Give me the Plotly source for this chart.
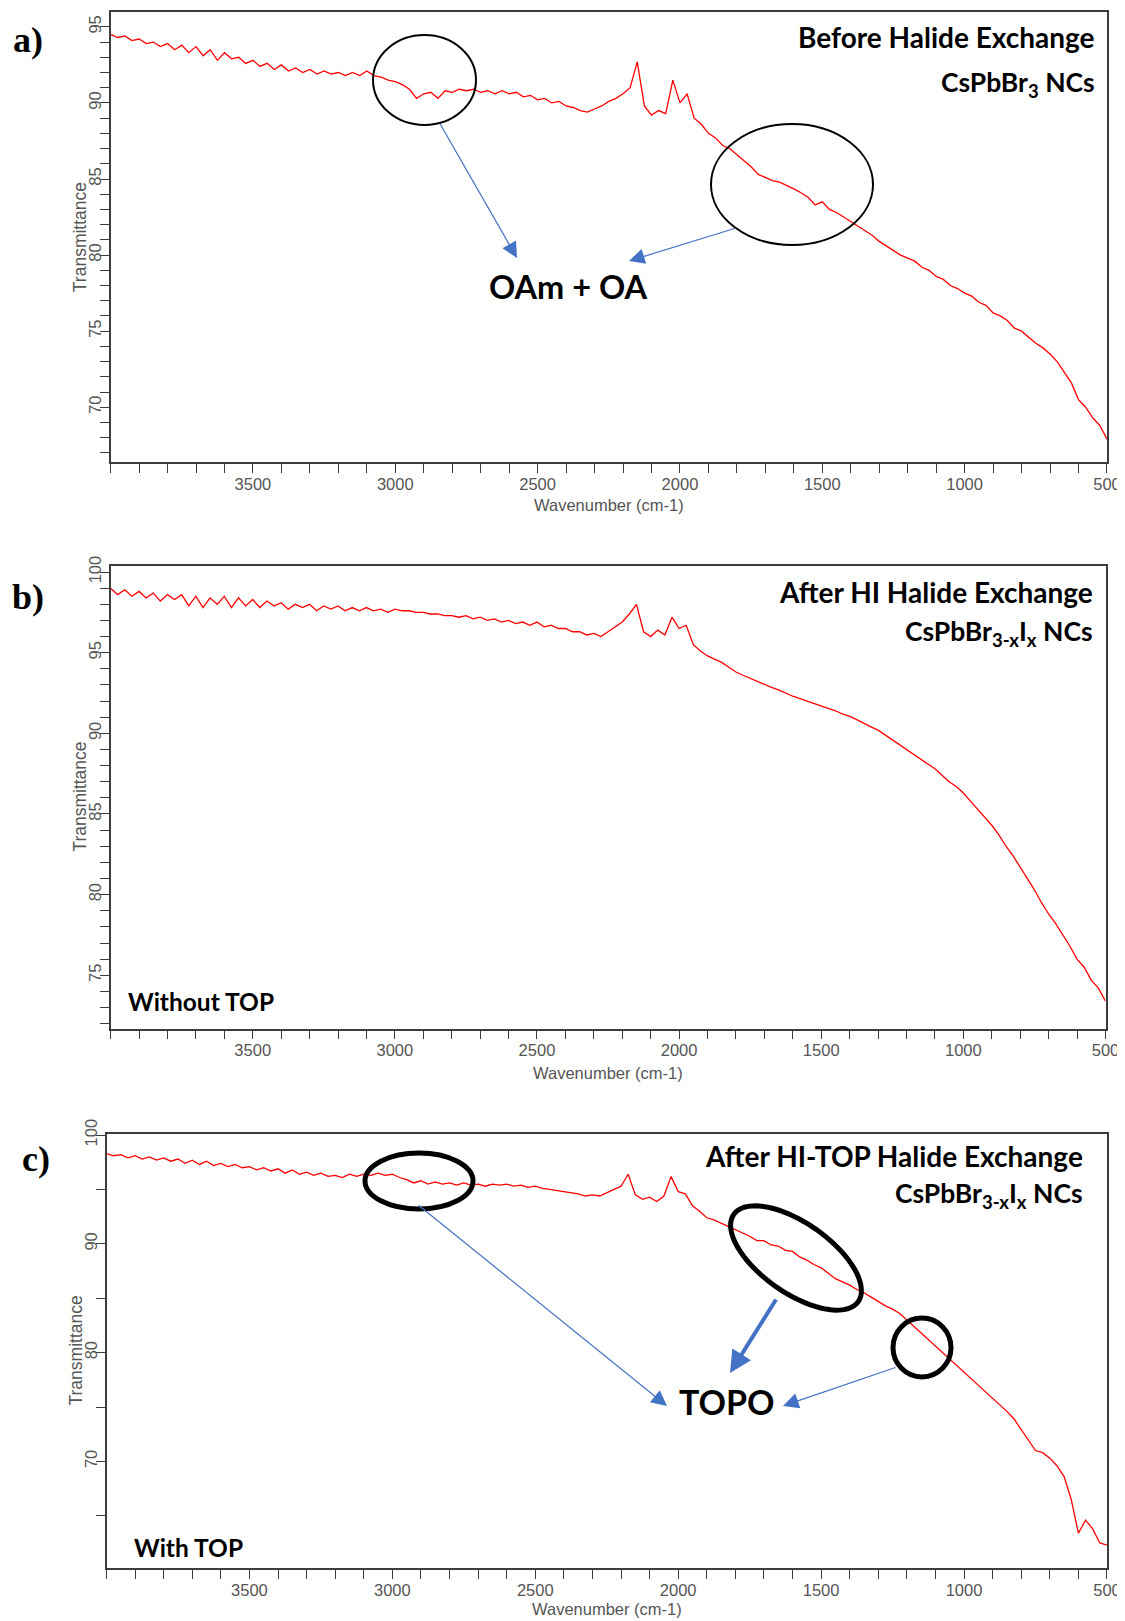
import numpy as np
import plotly.graph_objects as go

# The page body has an 8px default margin, so the figure is sized to fit the
# 1125x1621 window and all reference pixel positions are shifted by that margin.
OFF = 8
W, H = 1125 - OFF, 1621 - OFF


def px(x):
    return (x - OFF) / W


def py(y):
    return 1 - (y - OFF) / H


# ---------------- data ----------------
wavenumber = list(range(4000, 499, -25))  # cm-1 sampling grid, 4000 -> 500

transmittance_a = [
    94.5, 94.3, 94.4, 94.1, 94.2, 93.9, 94.0, 93.7, 93.9, 93.5,
    93.8, 93.3, 93.7, 93.1, 93.5, 92.8, 93.3, 92.9, 93.0, 92.6,
    92.8, 92.4, 92.6, 92.2, 92.5, 92.1, 92.3, 92.0, 92.2, 91.9,
    92.1, 91.9, 92.0, 91.8, 92.0, 91.8, 92.1, 91.8, 91.7, 91.5,
    91.4, 91.2, 90.9, 90.3, 90.6, 90.7, 90.3, 90.8, 90.7, 90.9,
    90.8, 90.9, 90.7, 90.8, 90.6, 90.8, 90.6, 90.7, 90.4, 90.5,
    90.2, 90.3, 90.0, 90.1, 89.8, 89.7, 89.5, 89.4, 89.6, 89.8,
    90.1, 90.3, 90.6, 91.0, 92.7, 89.8, 89.2, 89.5, 89.3, 91.5,
    90.0, 90.6, 89.0, 88.6, 88.0, 87.7, 87.2, 87.0, 86.6, 86.2,
    85.8, 85.3, 85.1, 84.9, 84.8, 84.6, 84.35, 84.1, 83.8, 83.3,
    83.5, 83.0, 82.8, 82.5, 82.2, 81.9, 81.6, 81.3, 80.9, 80.6,
    80.3, 80.0, 79.8, 79.6, 79.2, 79.0, 78.6, 78.4, 78.0, 77.8,
    77.5, 77.3, 76.9, 76.7, 76.2, 76.0, 75.7, 75.2, 75.0, 74.6,
    74.2, 73.9, 73.5, 73.0, 72.3, 71.6, 70.5, 70.0, 69.3, 68.8,
    67.9,
]

transmittance_b = [
    99.0, 98.6, 98.9, 98.5, 98.8, 98.4, 98.7, 98.2, 98.6, 98.3,
    98.6, 97.9, 98.5, 97.8, 98.4, 98.0, 98.5, 97.8, 98.4, 97.9,
    98.3, 97.8, 98.2, 97.9, 98.1, 97.7, 98.0, 97.8, 98.0, 97.6,
    97.9, 97.7, 97.9, 97.6, 97.8, 97.6, 97.8, 97.6, 97.7, 97.5,
    97.7, 97.6, 97.6, 97.5, 97.5, 97.4, 97.4, 97.3, 97.3, 97.2,
    97.3, 97.1, 97.2, 97.0, 97.1, 96.9, 97.0, 96.8, 96.9, 96.7,
    96.9, 96.6, 96.7, 96.5, 96.5, 96.3, 96.3, 96.1, 96.2, 96.0,
    96.3, 96.6, 96.9, 97.4, 98.0, 96.3, 96.0, 96.4, 96.1, 97.2,
    96.5, 96.7, 95.5, 95.1, 94.8, 94.6, 94.4, 94.1, 93.8, 93.6,
    93.4, 93.2, 93.05, 92.85, 92.7, 92.5, 92.3, 92.15, 92.0, 91.85,
    91.7, 91.55, 91.4, 91.2, 91.05, 90.85, 90.6, 90.4, 90.2, 89.9,
    89.6, 89.3, 89.0, 88.7, 88.4, 88.1, 87.8, 87.4, 87.0, 86.7,
    86.3, 85.8, 85.3, 84.8, 84.3, 83.7, 83.0, 82.4, 81.7, 81.0,
    80.3, 79.5, 78.8, 78.2, 77.5, 76.8, 76.0, 75.5, 74.7, 74.2,
    73.4,
]

transmittance_c = [
    98.3, 98.1, 98.2, 97.9, 98.1, 97.8, 98.0, 97.7, 97.9, 97.6,
    97.8, 97.4, 97.7, 97.3, 97.6, 97.2, 97.4, 97.1, 97.3, 97.0,
    97.1, 96.8, 97.0, 96.7, 96.9, 96.5, 96.8, 96.4, 96.6, 96.3,
    96.5, 96.2, 96.3, 96.1, 96.4, 96.2, 96.4, 96.3, 96.5, 96.3,
    96.4, 96.1, 95.9, 95.6, 95.8, 95.5, 95.7, 95.5, 95.6, 95.4,
    95.6, 95.4, 95.5, 95.3, 95.5, 95.4, 95.5, 95.3, 95.4, 95.2,
    95.3, 95.1, 95.0, 94.9, 94.8, 94.7, 94.6, 94.4, 94.5, 94.4,
    94.7, 95.0, 95.3, 96.4, 94.5, 94.1, 94.3, 93.9, 94.4, 96.2,
    94.8, 94.6, 93.5, 93.0, 92.4, 92.2, 91.9, 91.6, 91.3, 91.0,
    90.7, 90.3, 90.3, 89.9, 89.8, 89.4, 89.3, 88.8, 88.5, 88.1,
    87.8, 87.3, 86.8, 86.5, 86.2, 85.8, 85.5, 85.1, 84.7, 84.3,
    84.0, 83.6, 83.0, 82.4, 81.8, 81.2, 80.6, 80.0, 79.4, 78.8,
    78.2, 77.6, 77.0, 76.4, 75.8, 75.2, 74.6, 73.9, 72.9, 71.9,
    71.0, 70.8, 70.3, 69.6, 68.6, 66.5, 63.4, 64.6, 63.8, 62.5,
    62.3,
]

x_tick_values = [3500, 3000, 2500, 2000, 1500, 1000, 500]
panel_titles = ["Before Halide Exchange", "After HI Halide Exchange", "After HI-TOP Halide Exchange"]
panel_formulas = ["CsPbBr<sub>3</sub> NCs", "CsPbBr<sub>3-x</sub>I<sub>x</sub> NCs", "CsPbBr<sub>3-x</sub>I<sub>x</sub> NCs"]
panel_letters = ["a)", "b)", "c)"]
x_title = "Wavenumber (cm-1)"
y_title = "Transmittance"

# ---------------- layout geometry (reference pixels) ----------------
panels = [
    dict(l=110.6, r=1107, t=12.4, b=462, yr=[66.4, 95.95], dt=5, mdt=1, data=transmittance_a),
    dict(l=110.6, r=1105.5, t=565.6, b=1028.5, yr=[71.7, 100.4], dt=5, mdt=1, data=transmittance_b),
    dict(l=106.5, r=1107, t=1134, b=1568, yr=[60.2, 100.1], dt=10, mdt=5, data=transmittance_c),
]

AX = "#3c3c3c"
TICKFONT = dict(family="Liberation Sans, Arial, sans-serif", size=16.5, color="#555555")

fig = go.Figure()
layout = {}
for i, p in enumerate(panels):
    n = "" if i == 0 else str(i + 1)
    fig.add_trace(go.Scatter(
        x=wavenumber, y=p["data"], mode="lines",
        line=dict(color="#FF0000", width=1.3),
        xaxis="x" + n, yaxis="y" + n, showlegend=False, hoverinfo="skip",
    ))
    layout["xaxis" + n] = dict(
        domain=[px(p["l"]), px(p["r"])], anchor="y" + n, automargin=False,
        range=[4000, 499.9], tickmode="array", tickvals=x_tick_values,
        showline=True, linecolor=AX, linewidth=1.5, mirror=True,
        ticks="outside", ticklen=9, tickwidth=1.3, tickcolor=AX,
        minor=dict(ticks="outside", ticklen=9, tickwidth=1.3, tickcolor=AX, dtick=100, tick0=0),
        showgrid=False, zeroline=False, tickfont=TICKFONT, ticklabelstandoff=-3,
    )
    layout["yaxis" + n] = dict(
        domain=[py(p["b"]), py(p["t"])], anchor="x" + n, automargin=False,
        range=p["yr"], dtick=p["dt"], tick0=0, tickangle=-90,
        showline=True, linecolor=AX, linewidth=1.5, mirror=True,
        ticks="outside", ticklen=9, tickwidth=1.3, tickcolor=AX,
        minor=dict(ticks="outside", ticklen=9, tickwidth=1.3, tickcolor=AX, dtick=p["mdt"], tick0=0),
        showgrid=False, zeroline=False, tickfont=TICKFONT, ticklabelstandoff=-8,
    )

annotations = []
TXT = "Lato, Open Sans, sans-serif"


def text(x, y, s, size, xanchor="center", family=TXT, color="black", angle=0):
    annotations.append(dict(
        x=px(x), y=py(y), xref="paper", yref="paper", text=s, showarrow=False,
        xanchor=xanchor, yanchor="middle", textangle=angle,
        font=dict(family=family, size=size, color=color),
    ))


def arrow(x0, y0, x1, y1, width, size):
    annotations.append(dict(
        x=px(x1), y=py(y1), xref="paper", yref="paper",
        ax=x0 - x1, ay=y0 - y1, axref="pixel", ayref="pixel",
        text="", showarrow=True, arrowhead=2, arrowsize=size,
        arrowwidth=width, arrowcolor="#4472C4", standoff=0,
    ))


# axis titles
for p, xc in zip(panels, [80, 79.6, 75.5]):
    text(xc, (p["t"] + p["b"]) / 2, y_title, 17.5, family="Liberation Sans, Arial",
         color="#555555", angle=-90)
for p, yc in zip(panels, [505, 1073, 1609]):
    text((p["l"] + p["r"]) / 2, yc, x_title, 16.5, family="Liberation Sans, Arial", color="#555555")

# panel letters
for (x, y), s in zip([(28, 40), (28, 597), (36, 1159)], panel_letters):
    text(x, y, "<b>" + s + "</b>", 36, family="Liberation Serif, Times New Roman, serif")

# titles / formulas
for (x, y1, y2), t, f in zip([(1097, 37, 84), (1095, 592, 633), (1085, 1156, 1195)],
                             panel_titles, panel_formulas):
    text(x, y1, "<b>" + t + "</b>", 28, xanchor="right")
    text(x, y2, "<b>" + f + "</b>", 26.5, xanchor="right")

text(126, 1001, "<b>Without TOP</b>", 24.5, xanchor="left")
text(132, 1547, "<b>With TOP</b>", 24.5, xanchor="left")
text(568, 287, "<b>OAm + OA</b>", 32.5)
text(727, 1401, "<b>TOPO</b>", 34)

# arrows
arrow(439, 122, 517, 258, 1.2, 2.6)
arrow(736, 228, 629, 261, 1.2, 2.6)
arrow(417, 1204, 667, 1406, 1.2, 2.6)
arrow(777, 1298, 730, 1373, 4, 1.1)
arrow(897, 1367, 783, 1406, 1.2, 2.6)

# ellipses
shapes = []


def ellipse(x0, y0, x1, y1, w):
    shapes.append(dict(type="circle", xref="paper", yref="paper",
                       x0=px(x0), x1=px(x1), y0=py(y1), y1=py(y0),
                       line=dict(color="black", width=w)))


ellipse(373, 35, 476, 125, 2)
ellipse(711, 124, 873, 245, 2)
ellipse(365, 1153, 473, 1209, 5)
ellipse(893, 1318, 951, 1377, 5)

# rotated ellipse (TOPO region)
cx, cy, a, b, phi = 796, 1258, 76, 35, np.deg2rad(35)
th = np.linspace(0, 2 * np.pi, 73)
ex = cx + a * np.cos(th) * np.cos(phi) - b * np.sin(th) * np.sin(phi)
ey = cy + a * np.cos(th) * np.sin(phi) + b * np.sin(th) * np.cos(phi)
path = "M " + " L ".join(f"{px(xx):.5f},{py(yy):.5f}" for xx, yy in zip(ex, ey)) + " Z"
shapes.append(dict(type="path", xref="paper", yref="paper", path=path,
                   line=dict(color="black", width=5)))

fig.update_layout(
    width=W, height=H, margin=dict(l=0, r=0, t=0, b=0, autoexpand=False),
    paper_bgcolor="white", plot_bgcolor="white",
    annotations=annotations, shapes=shapes, showlegend=False,
    **layout,
)

fig.write_html("out.html")
